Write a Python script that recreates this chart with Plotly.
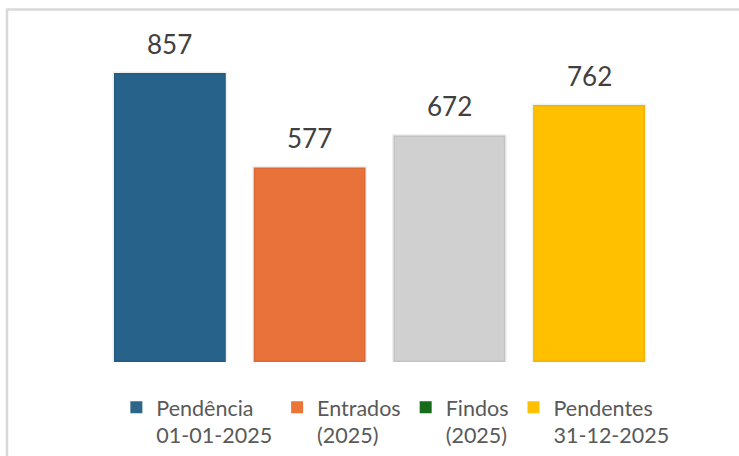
import plotly.graph_objects as go

# ---- data ----
categories = ["Pendência<br>01-01-2025", "Entrados<br>(2025)", "Findos<br>(2025)", "Pendentes<br>31-12-2025"]
values = [857, 577, 672, 762]
bar_colors = ["#27628a", "#e9713a", "#d0d0d0", "#ffc000"]
legend_colors = ["#2e6689", "#ee7336", "#176b1c", "#ffc000"]

FONT = "Lato, 'Open Sans', sans-serif"

fig = go.Figure()

# bars (drawn from data)
for cat, val, col in zip(categories, values, bar_colors):
    fig.add_trace(go.Bar(
        x=[cat], y=[val], width=0.8,
        marker=dict(color=col, line=dict(width=3, color="rgba(0,0,0,0.06)")),
        showlegend=False, hoverinfo="x+y",
    ))

# legend entries
for cat, col in zip(categories, legend_colors):
    fig.add_trace(go.Bar(
        x=[None], y=[None], name=cat,
        marker=dict(color=col, line=dict(width=0)),
        showlegend=True,
    ))

# value labels
for cat, val in zip(categories, values):
    fig.add_annotation(
        x=cat, y=val, text=str(val), showarrow=False,
        yanchor="bottom", yshift=11,
        font=dict(family=FONT, size=26, color="#404040"),
    )

# outer border (paper coords)
fig.add_shape(
    type="rect", xref="paper", yref="paper",
    x0=-0.1664, x1=1.2, y0=-0.4, y1=1.0014,
    line=dict(color="#d9d9d9", width=2.5), fillcolor="rgba(0,0,0,0)",
    layer="below",
)

fig.update_layout(
    width=739, height=456,
    margin=dict(l=100, r=80, t=10, b=94),
    paper_bgcolor="white", plot_bgcolor="white",
    barmode="overlay",
    xaxis=dict(showticklabels=False, showgrid=False, zeroline=False,
               showline=False, ticks="", categoryorder="array",
               categoryarray=categories, range=[-0.5, 3.5]),
    yaxis=dict(range=[0, 1044], showticklabels=False, showgrid=False,
               zeroline=False, showline=False, ticks=""),
    legend=dict(
        orientation="h", xref="container", yref="container",
        x=0.535, xanchor="center", y=0.152, yanchor="top",
        valign="top", font=dict(family=FONT, size=21.5, color="#595959"),
        itemclick=False, itemdoubleclick=False, traceorder="normal",
        bgcolor="rgba(0,0,0,0)",
    ),
    font=dict(family=FONT),
    showlegend=True,
)

fig.write_html("out.html", config={"displayModeBar": False},
               post_script="document.body.style.margin='0';")
